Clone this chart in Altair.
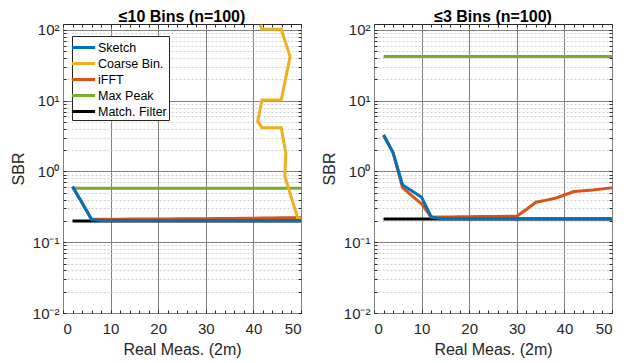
import altair as alt
import pandas as pd

# ---------------- data ----------------
x_meas = list(range(2, 51, 2))

left_sketch = [0.61, 0.36, 0.209] + [0.203] * 22
left_ifft = [0.61, 0.36, 0.211, 0.211, 0.211, 0.211, 0.212, 0.212, 0.212, 0.213,
             0.213, 0.214, 0.214, 0.215, 0.215, 0.216, 0.216, 0.217, 0.218, 0.218,
             0.219, 0.220, 0.221, 0.222, 0.224]
left_maxpeak = [0.578] * 25
left_match = [0.200] * 25
left_coarse_x = [41.4, 41.8, 45.85, 47.7, 45.85, 41.8, 40.9, 41.8, 45.85, 46.8, 46.6, 49.3, 50.0]
left_coarse_y = [118, 102, 102, 42, 10.2, 10.2, 5.1, 4.15, 4.15, 1.81, 0.85, 0.22, 0.22]

right_sketch = [3.28, 1.85, 0.645, 0.53, 0.43, 0.23] + [0.215] * 19
right_ifft = [3.28, 1.85, 0.59, 0.45, 0.347, 0.226, 0.228, 0.228, 0.229, 0.229,
              0.230, 0.231, 0.231, 0.232, 0.233, 0.29, 0.367, 0.39, 0.417, 0.465,
              0.52, 0.535, 0.548, 0.567, 0.59]
right_maxpeak = [42.0] * 25
right_match = [0.213] * 25

series_names = ["Sketch", "Coarse Bin.", "iFFT", "Max Peak", "Match. Filter"]
series_colors = ["#0072BD", "#EDB120", "#D95319", "#77AC30", "#000000"]

panel_titles = ["\u226410 Bins (n=100)", "\u22643 Bins (n=100)"]
x_tick_labels = [0, 10, 20, 30, 40, 50]
y_major = [0.01, 0.1, 1, 10, 100]
y_tick_labels = ["10\u207b\u00b2", "10\u207b\u00b9", "10\u2070", "10\u00b9", "10\u00b2"]
y_minor = [k * 10.0 ** e for e in range(-2, 2) for k in range(2, 10)]
x_minor = list(range(0, 51, 2))

FONT = "Liberation Sans"
GRID_MAJOR = "#808080"
GRID_MINOR = "#d0d0d0"
EDGE = "#262626"


def frame(xs, ys, name):
    return pd.DataFrame({"x": xs, "y": ys, "series": name, "i": list(range(len(xs)))})


label_expr = "[" + ",".join("'%s'" % t for t in y_tick_labels) + "][round(log(datum.value)/LN10)+2]"

x_main = alt.Axis(orient="bottom", values=x_tick_labels, format="d", grid=True,
                  gridColor=GRID_MAJOR, gridWidth=1, ticks=False, domain=False,
                  labelFontSize=15, labelPadding=8, labelColor="#262626",
                  title="Real Meas. (2m)", titleFontSize=16, titleFontWeight="normal",
                  titleColor="#262626", titlePadding=5)
y_main = alt.Axis(orient="left", values=y_major, labelExpr=label_expr, grid=True,
                  gridColor=GRID_MAJOR, gridWidth=1, ticks=False, domain=False,
                  labelFontSize=15, labelPadding=4, labelColor="#262626",
                  title="SBR", titleFontSize=16, titleFontWeight="normal",
                  titleColor="#262626", titlePadding=6)
x_ticks_bottom = alt.Axis(orient="bottom", values=x_minor, offset=-3, tickSize=3,
                          tickColor=EDGE, labels=False, domain=False, grid=False)
x_ticks_top = alt.Axis(orient="top", values=x_minor, offset=-3, tickSize=3,
                       tickColor=EDGE, labels=False, domain=False, grid=False)
y_minor_grid = alt.Axis(orient="left", values=y_minor, grid=True, gridColor=GRID_MINOR,
                        gridDash=[2, 2], gridWidth=1, ticks=False, labels=False, domain=False)
y_ticks_left = alt.Axis(orient="left", values=y_major + y_minor, offset=-3, tickSize=3,
                        tickColor=EDGE, labels=False, domain=False, grid=False)
y_ticks_right = alt.Axis(orient="right", values=y_major + y_minor, offset=-3, tickSize=3,
                         tickColor=EDGE, labels=False, domain=False, grid=False)

axis_sets = [(x_main, y_main), (x_ticks_bottom, y_minor_grid),
             (x_ticks_top, y_ticks_left), (None, y_ticks_right)]


def panel(title, frames, legend):
    xs = alt.Scale(domain=[0, 50], nice=False)
    ys = alt.Scale(type="log", domain=[0.01, 121], nice=False)
    cs = alt.Scale(domain=series_names, range=series_colors)
    layers = []
    for k, df in enumerate(frames):
        xa, ya = axis_sets[k] if k < len(axis_sets) else (None, None)
        x_enc = alt.X("x:Q", scale=xs, axis=xa, title="Real Meas. (2m)" if k == 0 else None)
        y_enc = alt.Y("y:Q", scale=ys, axis=ya, title="SBR" if k == 0 else None)
        layers.append(
            alt.Chart(df).mark_line(strokeWidth=3, clip=True).encode(
                x=x_enc, y=y_enc,
                color=alt.Color("series:N", scale=cs, legend=legend),
                order=alt.Order("i:Q"),
            )
        )
    return (alt.layer(*layers)
            .resolve_axis(x="independent", y="independent")
            .properties(width=238, height=289,
                        title=alt.Title(title, fontSize=16, fontWeight="bold", font=FONT,
                                        color="#000000", offset=-2)))


legend_left = alt.Legend(orient="none", legendX=9, legendY=12, title=None,
                         symbolType="M-1.45,0L1.45,0", symbolSize=256, symbolStrokeWidth=3,
                         labelFontSize=12.5, labelFont=FONT, labelColor="#000000",
                         labelOffset=5, rowPadding=0, padding=2,
                         strokeColor=EDGE, fillColor="#ffffff", labelLimit=200)

left_frames = [
    frame(x_meas, left_match, "Match. Filter"),
    frame(x_meas, left_maxpeak, "Max Peak"),
    frame(x_meas, left_ifft, "iFFT"),
    frame(left_coarse_x, left_coarse_y, "Coarse Bin."),
    frame(x_meas, left_sketch, "Sketch"),
]
right_frames = [
    frame(x_meas, right_match, "Match. Filter"),
    frame(x_meas, right_maxpeak, "Max Peak"),
    frame(x_meas, right_ifft, "iFFT"),
    frame(x_meas, right_sketch, "Sketch"),
]

left = panel(panel_titles[0], left_frames, legend_left)
right = panel(panel_titles[1], right_frames, None)

chart = (alt.hconcat(left, right, spacing=18)
         .resolve_scale(color="independent")
         .properties(padding={"left": 1, "top": 0, "right": 0, "bottom": 0})
         .configure(font=FONT)
         .configure_view(stroke=EDGE, strokeWidth=1))

chart.save("out.html", embed_options={"renderer": "svg", "actions": False})
